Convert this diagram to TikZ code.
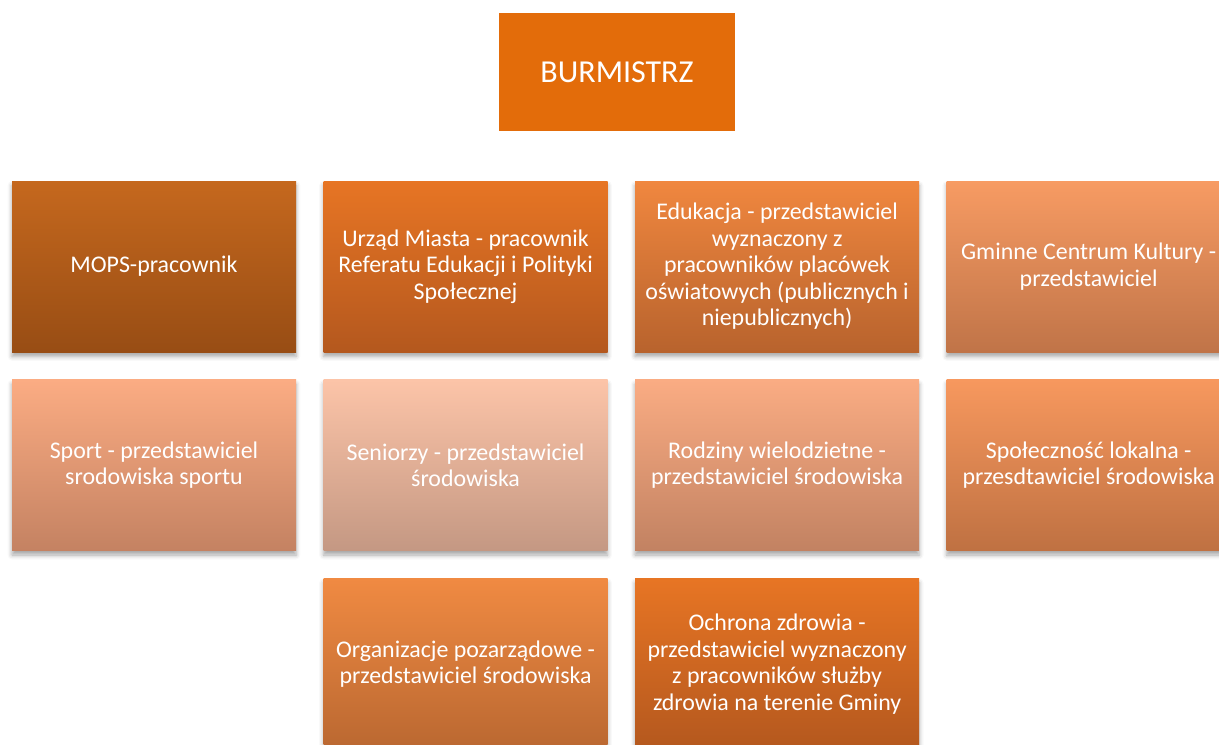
\documentclass[tikz,border=0pt]{standalone}
\usepackage{fontspec}
\setmainfont{Carlito}
\usepackage{tikz}
\usetikzlibrary{positioning, shadows.blur}

\definecolor{chiefOrange}{RGB}{227,108,10}
\definecolor{mopsTop}{RGB}{197,104,30}
\definecolor{mopsBot}{RGB}{152,77,20}
\definecolor{umTop}{RGB}{231,117,36}
\definecolor{umBot}{RGB}{180,88,30}
\definecolor{eduTop}{RGB}{240,135,63}
\definecolor{eduBot}{RGB}{184,99,45}
\definecolor{gckTop}{RGB}{247,155,99}
\definecolor{gckBot}{RGB}{192,116,72}
\definecolor{sportTop}{RGB}{251,172,131}
\definecolor{sportBot}{RGB}{196,130,98}
\definecolor{senTop}{RGB}{252,196,168}
\definecolor{senBot}{RGB}{196,152,131}
\definecolor{rodzTop}{RGB}{250,172,131}
\definecolor{rodzBot}{RGB}{194,130,98}
\definecolor{lokTop}{RGB}{247,152,94}
\definecolor{lokBot}{RGB}{191,113,66}
\definecolor{ngoTop}{RGB}{240,138,66}
\definecolor{ngoBot}{RGB}{186,104,49}

\tikzset{
    member/.style={rectangle, text=white, align=flush center, text width=5.5cm, inner sep=0.09cm,
        minimum height=3.42cm, font=\fontsize{13.6}{15.1}\selectfont,
        blur shadow={shadow xshift=0pt, shadow yshift=-2.5pt, shadow blur radius=2.5pt, shadow opacity=35}},
    chief/.style={rectangle, fill=chiefOrange, text=white, minimum width=4.72cm, minimum height=2.36cm,
        font=\fontsize{18.2}{20}\selectfont}
}

\begin{document}
\begin{tikzpicture}
        \useasboundingbox (0,0) rectangle (24.38,-14.88);

        \node[chief](burmistrz) at (12.34,-1.44){BURMISTRZ};

        \node[member, top color=mopsTop, bottom color=mopsBot](mops) at (3.08,-5.33){MOPS-pracownik};
        \node[member, top color=umTop, bottom color=umBot](urzad)[right = 0.537cm of mops]{Urząd Miasta - pracownik\\Referatu Edukacji i Polityki\\Społecznej};
        \node[member, top color=eduTop, bottom color=eduBot](edukacja)[right = 0.537cm of urzad]{Edukacja - przedstawiciel\\wyznaczony z\\pracowników placówek\\oświatowych (publicznych i\\niepublicznych)};
        \node[member, top color=gckTop, bottom color=gckBot](gck)[right = 0.537cm of edukacja]{Gminne Centrum Kultury -\\przedstawiciel};

        \node[member, top color=sportTop, bottom color=sportBot](sport)[below = 0.54cm of mops]{Sport - przedstawiciel\\srodowiska sportu};
        \node[member, top color=senTop, bottom color=senBot](seniorzy)[right = 0.537cm of sport]{Seniorzy - przedstawiciel\\środowiska};
        \node[member, top color=rodzTop, bottom color=rodzBot](rodziny)[right = 0.537cm of seniorzy]{Rodziny wielodzietne -\\przedstawiciel środowiska};
        \node[member, top color=lokTop, bottom color=lokBot](spolecznosc)[right = 0.537cm of rodziny]{Społeczność lokalna -\\przesdtawiciel środowiska};

        \node[member, top color=ngoTop, bottom color=ngoBot](ngo)[below = 0.54cm of seniorzy]{Organizacje pozarządowe -\\przedstawiciel środowiska};
        \node[member, top color=umTop, bottom color=umBot](zdrowie)[right = 0.537cm of ngo]{Ochrona zdrowia -\\przedstawiciel wyznaczony\\z pracowników służby\\zdrowia na terenie Gminy};
    \end{tikzpicture}
\end{document}
